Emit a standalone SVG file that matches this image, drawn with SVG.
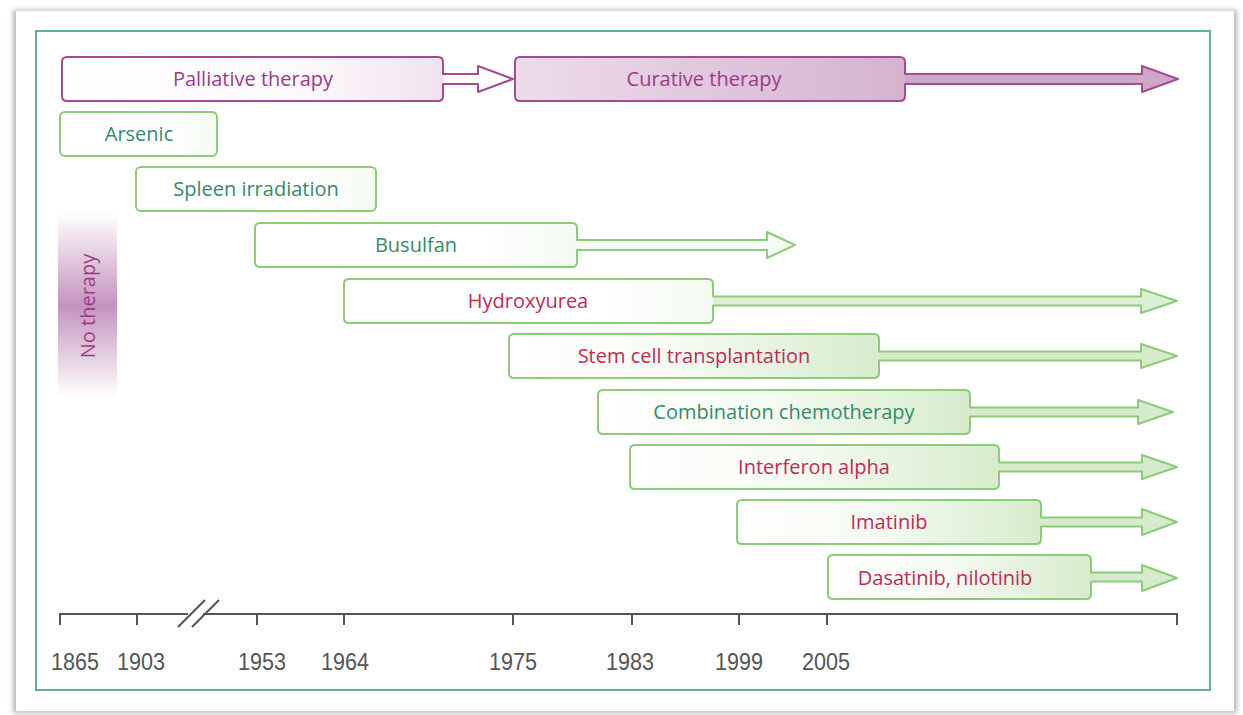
<svg xmlns="http://www.w3.org/2000/svg" width="1243" height="715" viewBox="0 0 1243 715">
  <defs>
    <style>
      .lbl { font-family: "Open Sans", "Noto Sans", sans-serif; font-size: 20px; text-anchor: middle; }
      .mag { fill: #9e3a8a; }
      .teal { fill: #378a6a; }
      .red { fill: #c42a55; }
      .year { font-family: "Liberation Sans", Arial, sans-serif; font-size: 23px; fill: #555555; text-anchor: middle; }
      .outline-g { fill: none; stroke: #8dca79; stroke-width: 2; stroke-linejoin: round; }
      .outline-m { fill: none; stroke: #a64b93; stroke-width: 2; stroke-linejoin: round; }
      .axis { stroke: #555555; stroke-width: 2; fill: none; }
    </style>
    <linearGradient id="gGreen" x1="0" y1="0" x2="1" y2="0">
      <stop offset="0" stop-color="#ffffff"/>
      <stop offset="0.45" stop-color="#f6fbf3"/>
      <stop offset="1" stop-color="#d6eccc"/>
    </linearGradient>
    <linearGradient id="gGreenPale" x1="0" y1="0" x2="1" y2="0">
      <stop offset="0" stop-color="#ffffff"/>
      <stop offset="0.7" stop-color="#ffffff"/>
      <stop offset="1" stop-color="#f4faf1"/>
    </linearGradient>
    <linearGradient id="gPall" x1="0" y1="0" x2="1" y2="0">
      <stop offset="0" stop-color="#ffffff"/>
      <stop offset="0.65" stop-color="#fcf8fb"/>
      <stop offset="1" stop-color="#f1e3ee"/>
    </linearGradient>
    <linearGradient id="gCur" x1="0" y1="0" x2="1" y2="0">
      <stop offset="0" stop-color="#eddcea"/>
      <stop offset="1" stop-color="#d4b3cf"/>
    </linearGradient>
    <linearGradient id="gNone" x1="0" y1="0" x2="0" y2="1">
      <stop offset="0" stop-color="#c493be" stop-opacity="0"/>
      <stop offset="0.5" stop-color="#c493be" stop-opacity="1"/>
      <stop offset="1" stop-color="#c493be" stop-opacity="0"/>
    </linearGradient>
    <filter id="soft" x="-5%" y="-5%" width="110%" height="110%">
      <feGaussianBlur stdDeviation="2.5"/>
    </filter>
  </defs>

  <!-- page -->
  <rect width="1243" height="715" fill="#ffffff"/>
  <rect x="13" y="10" width="1224" height="703" fill="#b8b8b8" filter="url(#soft)"/>
  <rect x="16" y="11" width="1218" height="700" fill="#ffffff"/>
  <rect x="36" y="31" width="1174" height="659" fill="none" stroke="#62b08f" stroke-width="2"/>

  <!-- no-therapy band -->
  <g id="no-therapy">
    <rect x="58" y="213" width="59" height="185" fill="url(#gNone)"/>
    <text class="lbl mag" transform="translate(95 306) rotate(-90)">No therapy</text>
  </g>

  <!-- therapy bars: solid arrow fill, box gradient, then one outline -->
  <g id="palliative">
    <path d="M442 74 H478 V66 L513 79 L478 92 V84 H442 Z" fill="#ffffff"/>
    <rect x="62" y="57" width="381" height="44" rx="5" fill="url(#gPall)"/>
    <path class="outline-m" d="M67 57 H438 Q443 57 443 62 V74 H478 V66 L513 79 L478 92 V84 H443 V96 Q443 101 438 101 H67 Q62 101 62 96 V62 Q62 57 67 57 Z"/>
    <text class="lbl mag" x="253" y="86">Palliative therapy</text>
  </g>

  <g id="curative">
    <path d="M904 74 H1142 V66 L1178 79 L1142 92 V84 H904 Z" fill="#cfa7c8"/>
    <rect x="515" y="57" width="390" height="44" rx="5" fill="url(#gCur)"/>
    <path class="outline-m" d="M520 57 H900 Q905 57 905 62 V74 H1142 V66 L1178 79 L1142 92 V84 H905 V96 Q905 101 900 101 H520 Q515 101 515 96 V62 Q515 57 520 57 Z"/>
    <text class="lbl mag" x="704" y="86">Curative therapy</text>
  </g>

  <g id="arsenic">
    <rect x="60" y="112" width="157" height="44" rx="5" fill="url(#gGreenPale)"/>
    <rect class="outline-g" x="60" y="112" width="157" height="44" rx="5"/>
    <text class="lbl teal" x="139" y="141">Arsenic</text>
  </g>

  <g id="spleen">
    <rect x="136" y="167" width="240" height="44" rx="5" fill="url(#gGreenPale)"/>
    <rect class="outline-g" x="136" y="167" width="240" height="44" rx="5"/>
    <text class="lbl teal" x="256" y="196">Spleen irradiation</text>
  </g>

  <g id="busulfan">
    <path d="M576 240 H767 V232 L795 245 L767 258 V250 H576 Z" fill="#f7fbf5"/>
    <rect x="255" y="223" width="322" height="44" rx="5" fill="url(#gGreenPale)"/>
    <path class="outline-g" d="M260 223 H572 Q577 223 577 228 V240 H767 V232 L795 245 L767 258 V250 H577 V262 Q577 267 572 267 H260 Q255 267 255 262 V228 Q255 223 260 223 Z"/>
    <text class="lbl teal" x="416" y="252">Busulfan</text>
  </g>

  <g id="hydroxyurea">
    <path d="M712 296.5 H1141 V289 L1177 301 L1141 313 V305.5 H712 Z" fill="#dcefd4"/>
    <rect x="344" y="279" width="369" height="44" rx="5" fill="url(#gGreenPale)"/>
    <path class="outline-g" d="M349 279 H708 Q713 279 713 284 V296.5 H1141 V289 L1177 301 L1141 313 V305.5 H713 V318 Q713 323 708 323 H349 Q344 323 344 318 V284 Q344 279 349 279 Z"/>
    <text class="lbl red" x="528" y="308">Hydroxyurea</text>
  </g>

  <g id="stem-cell">
    <path d="M878 351.5 H1141 V344 L1177 356 L1141 368 V360.5 H878 Z" fill="#d6ebcc"/>
    <rect x="509" y="334" width="370" height="44" rx="5" fill="url(#gGreen)"/>
    <path class="outline-g" d="M514 334 H874 Q879 334 879 339 V351.5 H1141 V344 L1177 356 L1141 368 V360.5 H879 V373 Q879 378 874 378 H514 Q509 378 509 373 V339 Q509 334 514 334 Z"/>
    <text class="lbl red" x="694" y="363">Stem cell transplantation</text>
  </g>

  <g id="combination">
    <path d="M969 407.5 H1138 V400 L1173 412 L1138 424 V416.5 H969 Z" fill="#d6ebcc"/>
    <rect x="598" y="390" width="372" height="44" rx="5" fill="url(#gGreen)"/>
    <path class="outline-g" d="M603 390 H965 Q970 390 970 395 V407.5 H1138 V400 L1173 412 L1138 424 V416.5 H970 V429 Q970 434 965 434 H603 Q598 434 598 429 V395 Q598 390 603 390 Z"/>
    <text class="lbl teal" x="784" y="419">Combination chemotherapy</text>
  </g>

  <g id="interferon">
    <path d="M998 462.5 H1142 V455 L1177 467 L1142 479 V471.5 H998 Z" fill="#d6ebcc"/>
    <rect x="630" y="445" width="369" height="44" rx="5" fill="url(#gGreen)"/>
    <path class="outline-g" d="M635 445 H994 Q999 445 999 450 V462.5 H1142 V455 L1177 467 L1142 479 V471.5 H999 V484 Q999 489 994 489 H635 Q630 489 630 484 V450 Q630 445 635 445 Z"/>
    <text class="lbl red" x="814" y="474">Interferon alpha</text>
  </g>

  <g id="imatinib">
    <path d="M1040 517.5 H1142 V509 L1177 522 L1142 535 V526.5 H1040 Z" fill="#d6ebcc"/>
    <rect x="737" y="500" width="304" height="44" rx="5" fill="url(#gGreen)"/>
    <path class="outline-g" d="M742 500 H1036 Q1041 500 1041 505 V517.5 H1142 V509 L1177 522 L1142 535 V526.5 H1041 V539 Q1041 544 1036 544 H742 Q737 544 737 539 V505 Q737 500 742 500 Z"/>
    <text class="lbl red" x="889" y="529">Imatinib</text>
  </g>

  <g id="dasatinib">
    <path d="M1090 572.5 H1142 V565 L1177 578 L1142 591 V581.5 H1090 Z" fill="#d6ebcc"/>
    <rect x="828" y="555" width="263" height="44" rx="5" fill="url(#gGreen)"/>
    <path class="outline-g" d="M833 555 H1086 Q1091 555 1091 560 V572.5 H1142 V565 L1177 578 L1142 591 V581.5 H1091 V594 Q1091 599 1086 599 H833 Q828 599 828 594 V560 Q828 555 833 555 Z"/>
    <text class="lbl red" x="945" y="585">Dasatinib, nilotinib</text>
  </g>

  <!-- time axis -->
  <g id="axis">
    <path class="axis" d="M60 625 V614 H188 M203 614 H1177 V625"/>
    <path class="axis" d="M137 614 V625 M257 614 V625 M344 614 V625 M513 614 V625 M632 614 V625 M739 614 V625 M827 614 V625"/>
    <path class="axis" d="M178 627 L205 600 M192 627 L219 600"/>
    <text class="year" x="75" y="670" textLength="48" lengthAdjust="spacingAndGlyphs">1865</text>
    <text class="year" x="141" y="670" textLength="48" lengthAdjust="spacingAndGlyphs">1903</text>
    <text class="year" x="262" y="670" textLength="48" lengthAdjust="spacingAndGlyphs">1953</text>
    <text class="year" x="345" y="670" textLength="48" lengthAdjust="spacingAndGlyphs">1964</text>
    <text class="year" x="513" y="670" textLength="48" lengthAdjust="spacingAndGlyphs">1975</text>
    <text class="year" x="630" y="670" textLength="48" lengthAdjust="spacingAndGlyphs">1983</text>
    <text class="year" x="739" y="670" textLength="48" lengthAdjust="spacingAndGlyphs">1999</text>
    <text class="year" x="826" y="670" textLength="48" lengthAdjust="spacingAndGlyphs">2005</text>
  </g>
</svg>
